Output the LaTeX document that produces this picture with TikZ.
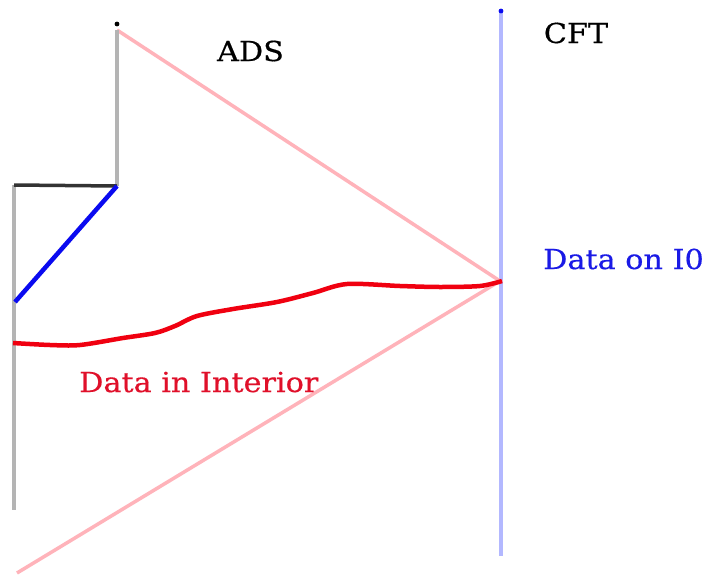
\documentclass[tikz,border=0pt]{standalone}
\usepackage{fontspec}
\newfontfamily\labfont[FakeStretch=1.1,FakeBold=0.5]{DejaVu Serif}
\definecolor{pinkl}{HTML}{FFB3BA}
\definecolor{lblue}{HTML}{B3B8FF}
\definecolor{grayl}{HTML}{B4B4B4}
\definecolor{redc}{HTML}{F00010}
\definecolor{redt}{HTML}{E0102A}
\definecolor{bluet}{HTML}{1A1AE6}
\definecolor{bluel}{HTML}{0A0AF0}
\begin{document}
\begin{tikzpicture}[x=1pt,y=-1pt,
  lab/.style={font=\labfont\fontsize{27.5}{32}\selectfont, inner sep=0pt},
  wall/.style={draw=grayl, line width=3.5pt},
  cone/.style={draw=pinkl, line width=3.5pt},
  bdry/.style={draw=lblue, line width=3.5pt}]
\useasboundingbox (0,0) rectangle (710,576);
\fill[white] (0,0) rectangle (710,576);
% coordinates
\coordinate (top) at (117,30);
\coordinate (corner) at (117,186);
\coordinate (lcorner) at (14,185);
\coordinate (lbot) at (14,510);
\coordinate (bluebot) at (15,302);
\coordinate (tip) at (500,281);
\coordinate (conebot) at (17,573);
\coordinate (btop) at (501,11);
\coordinate (bbot) at (501,556);
% boundary (CFT)
\draw[bdry] (btop) -- (bbot);
\fill[bluel] (btop) circle (2.4pt);
% cone
\draw[cone] (top) -- (tip) -- (conebot);
% walls
\draw[wall] (top) -- (corner);
\draw[wall] (lcorner) -- (lbot);
\fill[black] (117,24) circle (2.4pt);
\draw[black!80, line width=3.5pt] (lcorner) -- (corner);
\draw[bluel, line width=4.5pt] (corner) -- (bluebot);
% red curve
\draw[redc, line width=4.5pt, line join=round] plot[smooth, tension=0.5] coordinates {
 (13,343) (50,345) (80,345) (123,338) (155,333) (175,326) (197,316) (233,309) (277,302)
 (313,293) (347,284) (400,286) (440,287) (480,286) (502,281)};
% labels
\node[lab, anchor=base] (ads) at (250.5,61) {ADS};
\node[lab, anchor=base] (cft) at (576,43) {CFT};
\node[lab, anchor=base west, text=bluet] (dataon) at (543,269) {Data on I0};
\node[lab, anchor=base west, text=redt] (datain) at (79,392) {Data in Interior};
\end{tikzpicture}
\end{document}
